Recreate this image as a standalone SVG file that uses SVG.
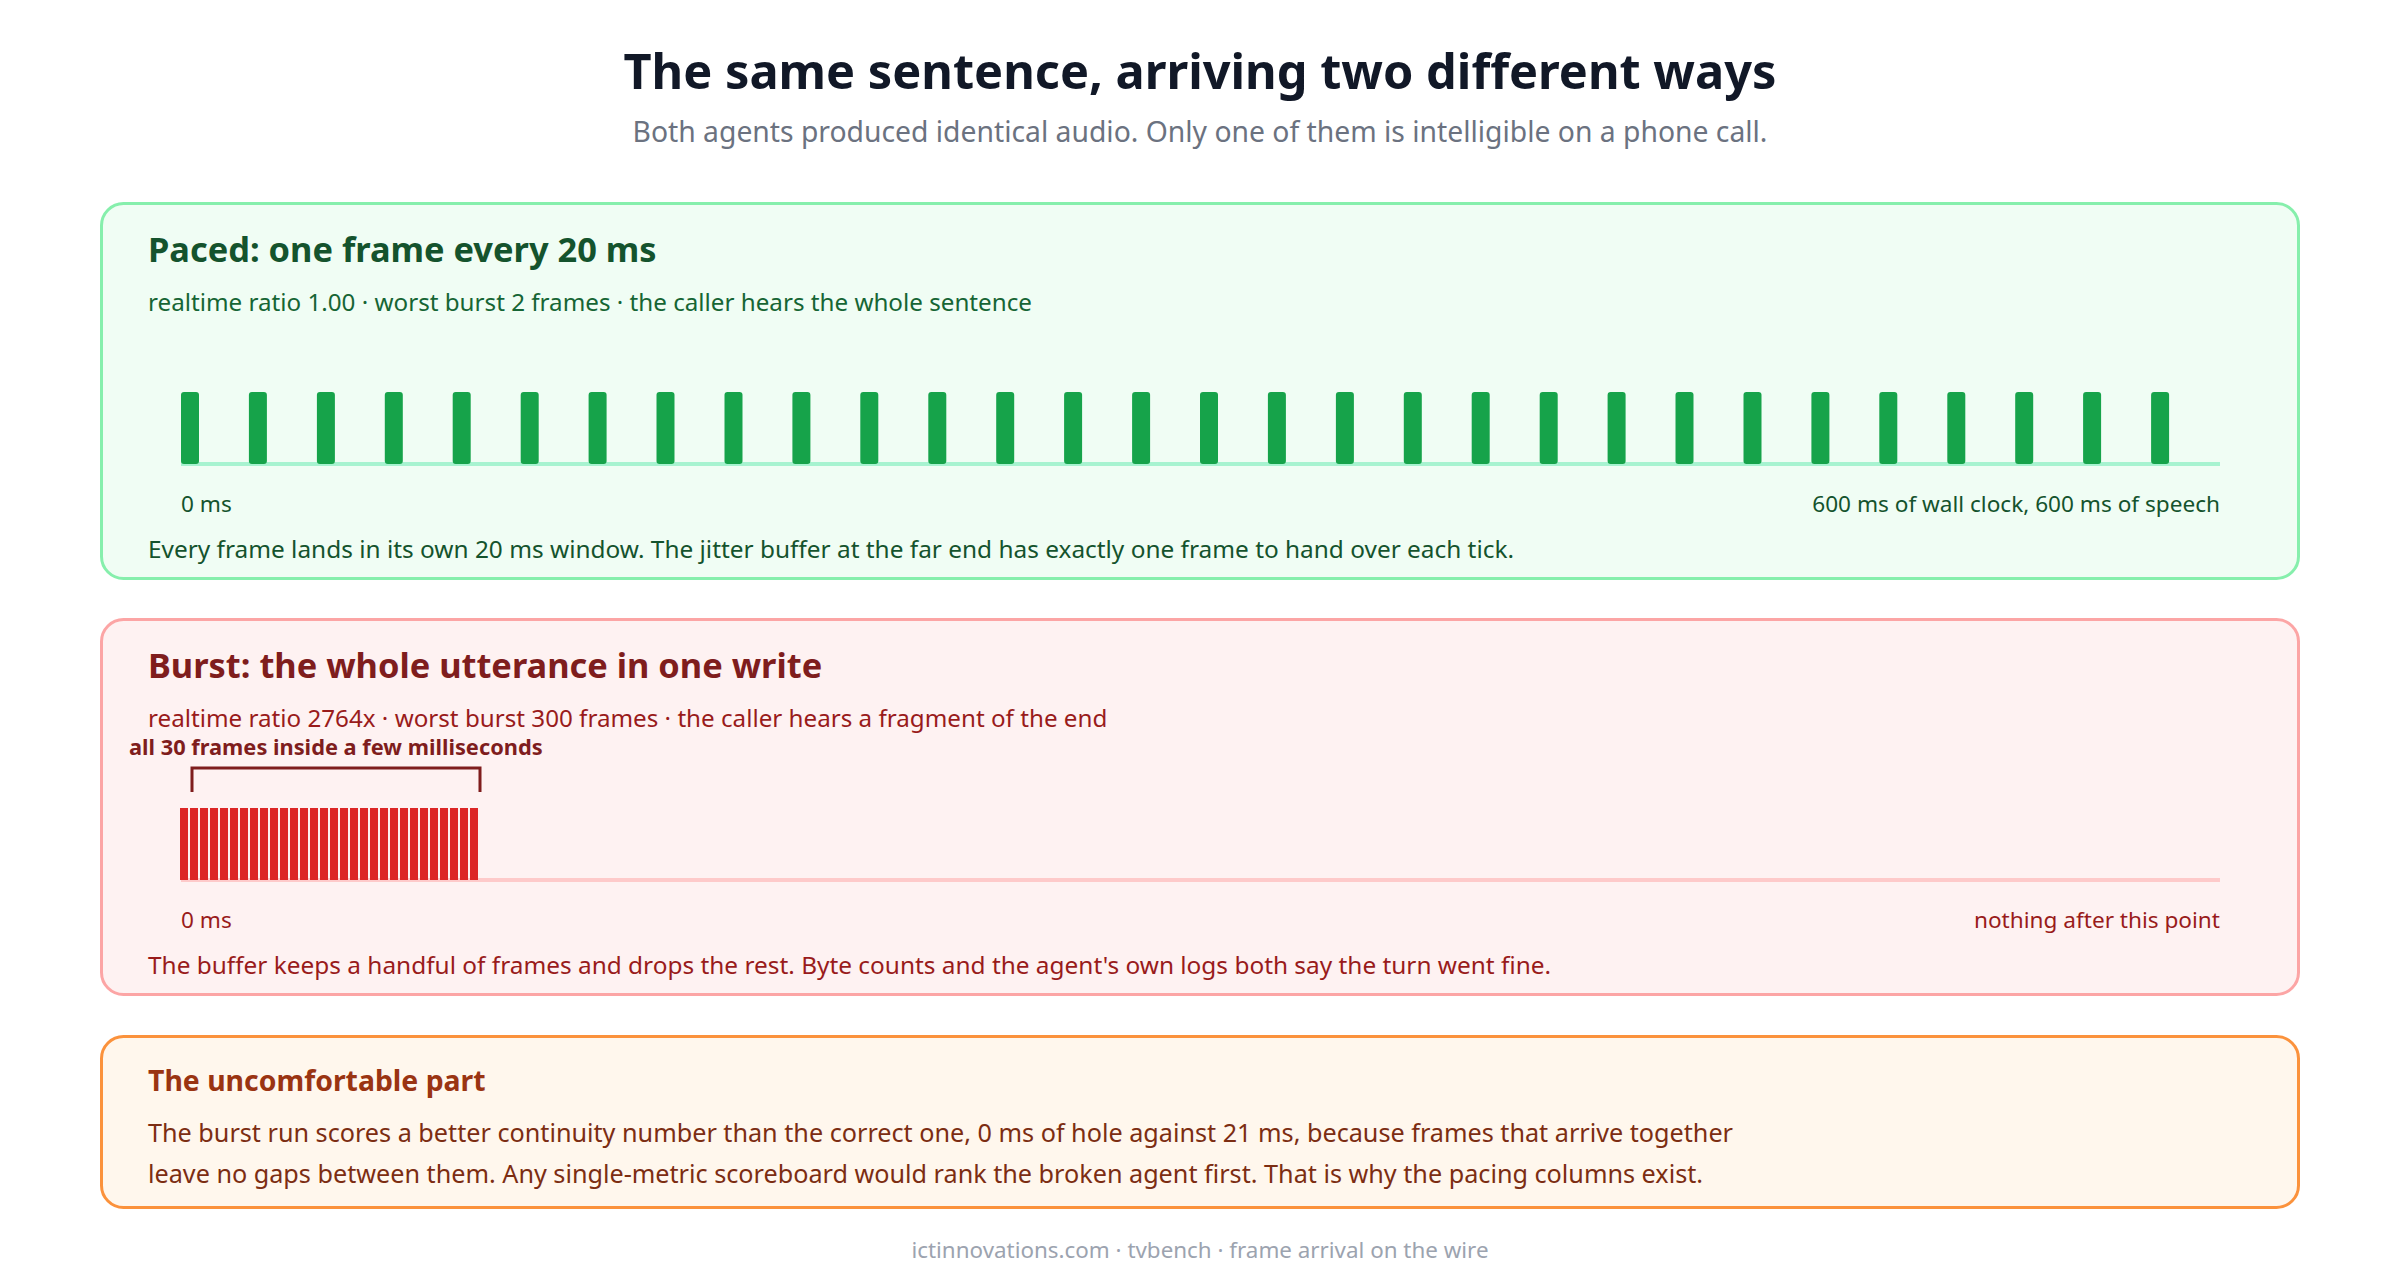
<svg xmlns="http://www.w3.org/2000/svg" width="2400" height="1280" viewBox="0 0 2400 1280">
<style>
text{font-family:"Noto Sans","Open Sans","DejaVu Sans",sans-serif}
.title{font-size:48.7px;font-weight:700;fill:#111827}
.subtitle{font-size:28.3px;fill:#6b7280}
.h{font-size:34.4px;font-weight:700}
.s{font-size:24.2px}
.lab{font-size:22.6px}
.b{font-size:24.4px}
.footer{font-size:22.4px;fill:#9ca3af}
.g1{fill:#14532d}.g2{fill:#166534}
.r1{fill:#7f1d1d}.r2{fill:#991b1b}
.o1{fill:#9a3412}.o2{fill:#7c2d12}
.gbar{fill:#16a34a}
.rbar{fill:#dc2626}
</style>
<rect width="2400" height="1280" fill="#ffffff"/>
<g id="header">
<text class="title" x="1200" y="89" text-anchor="middle">The same sentence, arriving two different ways</text>
<text class="subtitle" x="1200" y="142" text-anchor="middle">Both agents produced identical audio. Only one of them is intelligible on a phone call.</text>
</g>
<g id="paced">
<rect x="101.5" y="203.5" width="2197" height="375" rx="22" fill="#f0fdf4" stroke="#86efac" stroke-width="3"/>
<text class="h g1" x="148" y="262">Paced: one frame every 20 ms</text>
<text class="s g2" x="148" y="311">realtime ratio 1.00 · worst burst 2 frames · the caller hears the whole sentence</text>
<line x1="181" y1="464" x2="2220" y2="464" stroke="#a7f3d0" stroke-width="4"/>
<g class="gbar">
<rect x="181" y="392" width="18" height="72" rx="3"/>
<rect x="248.9" y="392" width="18" height="72" rx="3"/>
<rect x="316.9" y="392" width="18" height="72" rx="3"/>
<rect x="384.8" y="392" width="18" height="72" rx="3"/>
<rect x="452.7" y="392" width="18" height="72" rx="3"/>
<rect x="520.7" y="392" width="18" height="72" rx="3"/>
<rect x="588.6" y="392" width="18" height="72" rx="3"/>
<rect x="656.5" y="392" width="18" height="72" rx="3"/>
<rect x="724.5" y="392" width="18" height="72" rx="3"/>
<rect x="792.4" y="392" width="18" height="72" rx="3"/>
<rect x="860.3" y="392" width="18" height="72" rx="3"/>
<rect x="928.3" y="392" width="18" height="72" rx="3"/>
<rect x="996.2" y="392" width="18" height="72" rx="3"/>
<rect x="1064.1" y="392" width="18" height="72" rx="3"/>
<rect x="1132.1" y="392" width="18" height="72" rx="3"/>
<rect x="1200" y="392" width="18" height="72" rx="3"/>
<rect x="1267.9" y="392" width="18" height="72" rx="3"/>
<rect x="1335.9" y="392" width="18" height="72" rx="3"/>
<rect x="1403.8" y="392" width="18" height="72" rx="3"/>
<rect x="1471.7" y="392" width="18" height="72" rx="3"/>
<rect x="1539.7" y="392" width="18" height="72" rx="3"/>
<rect x="1607.6" y="392" width="18" height="72" rx="3"/>
<rect x="1675.5" y="392" width="18" height="72" rx="3"/>
<rect x="1743.5" y="392" width="18" height="72" rx="3"/>
<rect x="1811.4" y="392" width="18" height="72" rx="3"/>
<rect x="1879.3" y="392" width="18" height="72" rx="3"/>
<rect x="1947.3" y="392" width="18" height="72" rx="3"/>
<rect x="2015.2" y="392" width="18" height="72" rx="3"/>
<rect x="2083.1" y="392" width="18" height="72" rx="3"/>
<rect x="2151.1" y="392" width="18" height="72" rx="3"/>
</g>
<text class="lab g1" x="181" y="512">0 ms</text>
<text class="lab g1" x="2220" y="512" text-anchor="end">600 ms of wall clock, 600 ms of speech</text>
<text class="b g1" x="148" y="558">Every frame lands in its own 20 ms window. The jitter buffer at the far end has exactly one frame to hand over each tick.</text>
</g>
<g id="burst">
<rect x="101.5" y="619.5" width="2197" height="375" rx="22" fill="#fef2f2" stroke="#fca5a5" stroke-width="3"/>
<text class="h r1" x="148" y="678">Burst: the whole utterance in one write</text>
<text class="s r2" x="148" y="727">realtime ratio 2764x · worst burst 300 frames · the caller hears a fragment of the end</text>
<text class="r1" x="129" y="755" font-size="21.8" font-weight="700">all 30 frames inside a few milliseconds</text>
<path d="M192 792 V768 H480 V792" fill="none" stroke="#7f1d1d" stroke-width="3"/>
<line x1="181" y1="880" x2="2220" y2="880" stroke="#fecaca" stroke-width="4"/>
<g class="rbar">
<rect x="180" y="808" width="8" height="72"/>
<rect x="190" y="808" width="8" height="72"/>
<rect x="200" y="808" width="8" height="72"/>
<rect x="210" y="808" width="8" height="72"/>
<rect x="220" y="808" width="8" height="72"/>
<rect x="230" y="808" width="8" height="72"/>
<rect x="240" y="808" width="8" height="72"/>
<rect x="250" y="808" width="8" height="72"/>
<rect x="260" y="808" width="8" height="72"/>
<rect x="270" y="808" width="8" height="72"/>
<rect x="280" y="808" width="8" height="72"/>
<rect x="290" y="808" width="8" height="72"/>
<rect x="300" y="808" width="8" height="72"/>
<rect x="310" y="808" width="8" height="72"/>
<rect x="320" y="808" width="8" height="72"/>
<rect x="330" y="808" width="8" height="72"/>
<rect x="340" y="808" width="8" height="72"/>
<rect x="350" y="808" width="8" height="72"/>
<rect x="360" y="808" width="8" height="72"/>
<rect x="370" y="808" width="8" height="72"/>
<rect x="380" y="808" width="8" height="72"/>
<rect x="390" y="808" width="8" height="72"/>
<rect x="400" y="808" width="8" height="72"/>
<rect x="410" y="808" width="8" height="72"/>
<rect x="420" y="808" width="8" height="72"/>
<rect x="430" y="808" width="8" height="72"/>
<rect x="440" y="808" width="8" height="72"/>
<rect x="450" y="808" width="8" height="72"/>
<rect x="460" y="808" width="8" height="72"/>
<rect x="470" y="808" width="8" height="72"/>
</g>
<text class="lab r2" x="181" y="928">0 ms</text>
<text class="lab r2" x="2220" y="928" text-anchor="end">nothing after this point</text>
<text class="b r2" x="148" y="974">The buffer keeps a handful of frames and drops the rest. Byte counts and the agent's own logs both say the turn went fine.</text>
</g>
<g id="uncomfortable">
<rect x="101.5" y="1036.5" width="2197" height="171" rx="22" fill="#fff7ed" stroke="#fb923c" stroke-width="3"/>
<text class="o1" x="148" y="1091" font-size="28.4" font-weight="700">The uncomfortable part</text>
<text class="o2" x="148" y="1142" font-size="25.2">The burst run scores a better continuity number than the correct one, 0 ms of hole against 21 ms, because frames that arrive together</text>
<text class="o2" x="148" y="1183" font-size="25.2">leave no gaps between them. Any single-metric scoreboard would rank the broken agent first. That is why the pacing columns exist.</text>
</g>
<g id="footer">
<text class="footer" x="1200" y="1258" text-anchor="middle">ictinnovations.com · tvbench · frame arrival on the wire</text>
</g>
</svg>
